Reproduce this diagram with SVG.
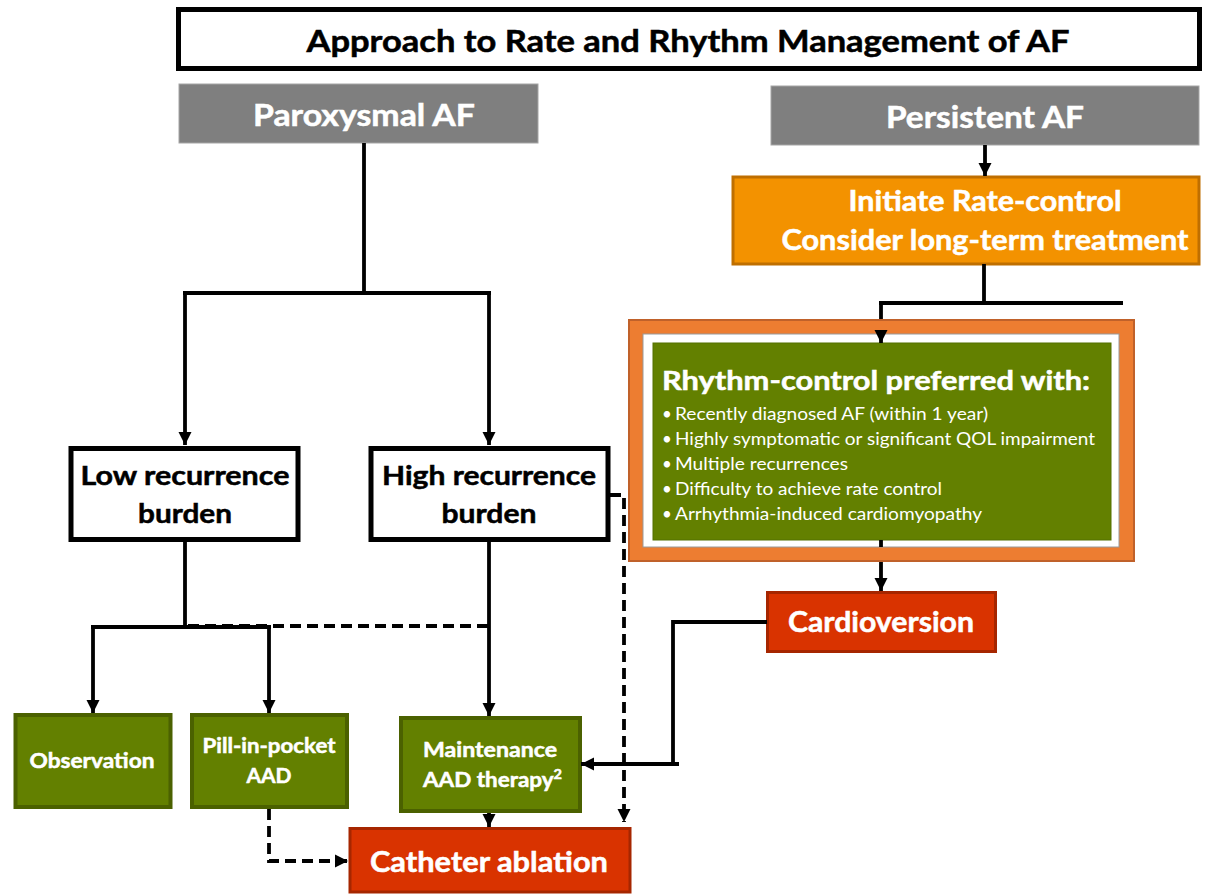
<svg xmlns="http://www.w3.org/2000/svg" width="1220" height="895" viewBox="0 0 1220 895">
  <style>
    text { font-family: Lato, "Open Sans", "Liberation Sans", sans-serif; font-weight: bold; text-anchor: middle; stroke-width: 0.5; }
    .white { fill: #ffffff; stroke: #ffffff; }
    .black { fill: #000000; stroke: #000000; }
    .bullet { font-weight: normal; text-anchor: start; font-size: 17px; fill: #ffffff; stroke: none; }
    .frame { fill: #ffffff; stroke: #000000; stroke-width: 5; }
    .grey { fill: #7f7f7f; stroke: #a6a6a6; stroke-width: 1; }
    .leaf { fill: #638000; stroke: #4b6100; stroke-width: 4; }
    .red { fill: #d93300; stroke: #a62600; stroke-width: 3; }
    .line { fill: none; stroke: #000000; stroke-width: 3.8; }
    .dash { fill: none; stroke: #000000; stroke-width: 3.8; stroke-dasharray: 11 6; }
  </style>
  <defs>
    <marker id="arrow" markerUnits="userSpaceOnUse" markerWidth="14" markerHeight="14" viewBox="0 0 14 14" refX="13" refY="7" orient="auto">
      <path d="M0,0.5 L13,7 L0,13.5 Z" fill="#000000"/>
    </marker>
  </defs>

  <rect width="1220" height="895" fill="#ffffff"/>

  <!-- nodes -->
  <g id="title">
    <rect class="frame" x="178.5" y="9.5" width="1021" height="59"/>
    <text class="black" x="688" y="52" font-size="30" textLength="763" lengthAdjust="spacingAndGlyphs">Approach to Rate and Rhythm Management of AF</text>
  </g>

  <g id="paroxysmal">
    <rect class="grey" x="179" y="84" width="359" height="59"/>
    <text class="white" x="364" y="126" font-size="30" textLength="222" lengthAdjust="spacingAndGlyphs">Paroxysmal AF</text>
  </g>

  <g id="persistent">
    <rect class="grey" x="771" y="86" width="428" height="59"/>
    <text class="white" x="985" y="128" font-size="30" textLength="198" lengthAdjust="spacingAndGlyphs">Persistent AF</text>
  </g>

  <g id="rate-control">
    <rect x="733" y="177" width="466" height="87" fill="#f39200" stroke="#bf6f00" stroke-width="3"/>
    <text class="white" x="985" y="211" font-size="28" textLength="273" lengthAdjust="spacingAndGlyphs">Initiate Rate-control</text>
    <text class="white" x="985" y="250" font-size="28" textLength="407" lengthAdjust="spacingAndGlyphs">Consider long-term treatment</text>
  </g>

  <g id="rhythm-control">
    <rect x="629" y="320" width="505" height="241" fill="#ed7d31" stroke="#c0612a" stroke-width="2"/>
    <rect x="643" y="334" width="476" height="213" fill="#ffffff" stroke="#9a9a9a" stroke-width="1"/>
    <rect x="653" y="343" width="458" height="197" fill="#638000" stroke="#557000" stroke-width="1"/>
    <text class="white" x="662" y="390" font-size="26" style="text-anchor:start" textLength="428" lengthAdjust="spacingAndGlyphs">Rhythm-control preferred with:</text>
    <text class="bullet" x="662" y="420">•</text>
    <text class="bullet" x="675" y="420" textLength="313" lengthAdjust="spacingAndGlyphs">Recently diagnosed AF (within 1 year)</text>
    <text class="bullet" x="662" y="445">•</text>
    <text class="bullet" x="675" y="445" textLength="420" lengthAdjust="spacingAndGlyphs">Highly symptomatic or significant QOL impairment</text>
    <text class="bullet" x="662" y="470">•</text>
    <text class="bullet" x="675" y="470" textLength="173" lengthAdjust="spacingAndGlyphs">Multiple recurrences</text>
    <text class="bullet" x="662" y="495">•</text>
    <text class="bullet" x="675" y="495" textLength="267" lengthAdjust="spacingAndGlyphs">Difficulty to achieve rate control</text>
    <text class="bullet" x="662" y="520">•</text>
    <text class="bullet" x="675" y="520" textLength="307" lengthAdjust="spacingAndGlyphs">Arrhythmia-induced cardiomyopathy</text>
  </g>

  <g id="low-burden">
    <rect class="frame" x="71" y="448.5" width="227" height="91"/>
    <text class="black" x="185" y="485" font-size="27" textLength="209" lengthAdjust="spacingAndGlyphs">Low recurrence</text>
    <text class="black" x="185" y="523" font-size="27" textLength="94" lengthAdjust="spacingAndGlyphs">burden</text>
  </g>

  <g id="high-burden">
    <rect class="frame" x="371" y="448.5" width="237" height="91"/>
    <text class="black" x="489" y="485" font-size="27" textLength="214" lengthAdjust="spacingAndGlyphs">High recurrence</text>
    <text class="black" x="489" y="523" font-size="27" textLength="95" lengthAdjust="spacingAndGlyphs">burden</text>
  </g>

  <g id="cardioversion">
    <rect class="red" x="767.5" y="592.5" width="228" height="59"/>
    <text class="white" x="881" y="632" font-size="28" textLength="186" lengthAdjust="spacingAndGlyphs">Cardioversion</text>
  </g>

  <g id="observation">
    <rect class="leaf" x="15.5" y="715" width="155" height="92"/>
    <text class="white" x="92" y="768" font-size="20" textLength="125" lengthAdjust="spacingAndGlyphs">Observation</text>
  </g>

  <g id="pill-in-pocket">
    <rect class="leaf" x="192" y="715" width="155" height="92"/>
    <text class="white" x="269" y="753" font-size="20" textLength="133" lengthAdjust="spacingAndGlyphs">Pill-in-pocket</text>
    <text class="white" x="269" y="783" font-size="20" textLength="45" lengthAdjust="spacingAndGlyphs">AAD</text>
  </g>

  <g id="maintenance">
    <rect class="leaf" x="401" y="718" width="179" height="93"/>
    <text class="white" x="490" y="757" font-size="20" textLength="134" lengthAdjust="spacingAndGlyphs">Maintenance</text>
    <text class="white" x="423" y="787" font-size="20" style="text-anchor:start" textLength="139" lengthAdjust="spacingAndGlyphs">AAD therapy<tspan font-size="13" dy="-8">2</tspan></text>
  </g>

  <g id="catheter-ablation">
    <rect class="red" x="350" y="828.5" width="280" height="63.5"/>
    <text class="white" x="489" y="872" font-size="28" textLength="238" lengthAdjust="spacingAndGlyphs">Catheter ablation</text>
  </g>

  <!-- connectors -->
  <g id="connectors">
    <path class="line" d="M364,143 V293 M183,293 H491"/>
    <path class="line" d="M185,293 V445" marker-end="url(#arrow)"/>
    <path class="line" d="M489,293 V445" marker-end="url(#arrow)"/>

    <path class="line" d="M185,541 V627 M91,627 H271"/>
    <path class="line" d="M93,627 V713" marker-end="url(#arrow)"/>
    <path class="line" d="M269,627 V713" marker-end="url(#arrow)"/>
    <path class="dash" d="M188,626 H490"/>

    <path class="line" d="M489,541 V716" marker-end="url(#arrow)"/>
    <path class="line" d="M489,813 V827" marker-end="url(#arrow)"/>

    <path class="dash" d="M269,809 V861 H348" marker-end="url(#arrow)"/>
    <path class="dash" d="M610,495 H624 V822" marker-end="url(#arrow)"/>

    <path class="line" d="M985,145 V176" marker-end="url(#arrow)"/>
    <path class="line" d="M984,264 V303 M879,303 H1123 M881,303 V319"/>
    <path class="line" d="M881,333 V343" marker-end="url(#arrow)"/>
    <path class="line" d="M881,540 V547 M881,562 V591" marker-end="url(#arrow)"/>

    <path class="line" d="M767,622 H673 V764 M679,764 H581" marker-end="url(#arrow)"/>
  </g>
</svg>
